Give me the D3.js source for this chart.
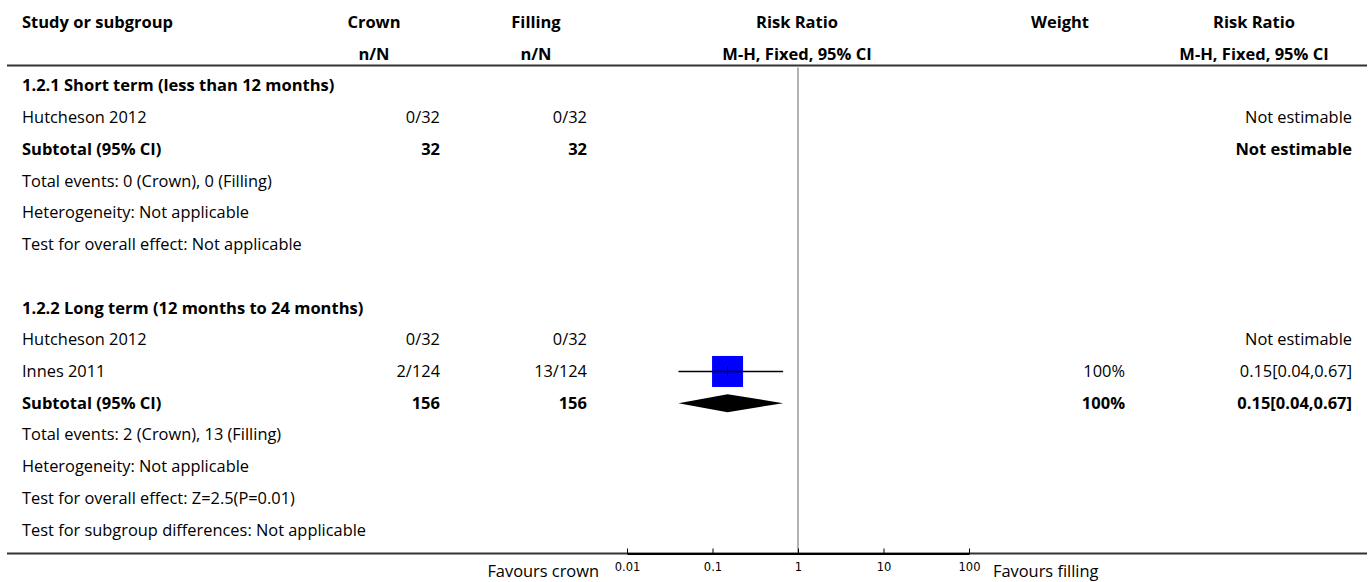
<!DOCTYPE html>
<html>
<head>
<meta charset="utf-8">
<script src="https://cdn.jsdelivr.net/npm/d3@7"></script>
<style>
  html, body { margin: 0; padding: 0; background: #fff; }
  svg { display: block; font-family: "Open Sans", "Noto Sans", sans-serif; }
</style>
</head>
<body>
<svg id="forest" width="1370" height="582"></svg>
<script>
// Column headings
const headLine1 = ["Study or subgroup", "Crown", "Filling", "Risk Ratio", "Weight", "Risk Ratio"];
const headLine2 = ["", "n/N", "n/N", "M-H, Fixed, 95% CI", "", "M-H, Fixed, 95% CI"];

// Table rows, top to bottom
const rowLabels = [
  "1.2.1 Short term (less than 12 months)",
  "Hutcheson 2012",
  "Subtotal (95% CI)",
  "Total events: 0 (Crown), 0 (Filling)",
  "Heterogeneity: Not applicable",
  "Test for overall effect: Not applicable",
  "",
  "1.2.2 Long term (12 months to 24 months)",
  "Hutcheson 2012",
  "Innes 2011",
  "Subtotal (95% CI)",
  "Total events: 2 (Crown), 13 (Filling)",
  "Heterogeneity: Not applicable",
  "Test for overall effect: Z=2.5(P=0.01)",
  "Test for subgroup differences: Not applicable"
];
// "group" = subgroup heading, "study", "total" = subtotal row, "note" = plain text
const rowKinds = ["group", "study", "total", "note", "note", "note", "note",
                  "group", "study", "study", "total", "note", "note", "note", "note"];
const crownNN   = ["", "0/32", "32", "", "", "", "", "", "0/32", "2/124", "156", "", "", "", ""];
const fillingNN = ["", "0/32", "32", "", "", "", "", "", "0/32", "13/124", "156", "", "", "", ""];
const weights   = ["", "", "", "", "", "", "", "", "", "100%", "100%", "", "", "", ""];
const ciText    = ["", "Not estimable", "Not estimable", "", "", "", "", "",
                   "Not estimable", "0.15[0.04,0.67]", "0.15[0.04,0.67]", "", "", "", ""];

// Effect estimates (risk ratio, lower, upper) for rows that have one
const estRow   = [9, 10];
const estRR    = [0.15, 0.15];
const estLower = [0.04, 0.04];
const estUpper = [0.67, 0.67];
const estKind  = ["study", "total"];
const estWeight = [100, 100];

// Axis
const axisTicks = [0.01, 0.1, 1, 10, 100];
const favoursLeft = "Favours crown";
const favoursRight = "Favours filling";

const svg = d3.select("#forest");

const x = d3.scaleLog().domain([0.01, 100]).range([627, 969]);
const y = d3.scaleBand().domain(d3.range(rowLabels.length)).range([70, 546]);
const yc = i => y(i) + y.bandwidth() / 2;

const ruleLeft = 7, ruleRight = 1367, headRuleY = 65.5, footRuleY = 553.5;

// Column anchors
const colStudyX = 22;
const colCrownHeadX = 374, colCrownValX = 440;
const colFillHeadX = 536, colFillValX = 587;
const colPlotHeadX = 797;
const colWeightHeadX = 1060, colWeightValX = 1125;
const colCIHeadX = 1254, colCIValX = 1352;

const fs = 16.4;      // body text
const fsBold = 16.5;  // headings, subgroup and subtotal rows

// Header
const headX = [colStudyX, colCrownHeadX, colFillHeadX, colPlotHeadX, colWeightHeadX, colCIHeadX];
const headAnchor = ["start", "middle", "middle", "middle", "middle", "middle"];
const head = svg.append("g").attr("class", "header")
  .attr("font-weight", "bold").attr("font-size", fsBold).attr("fill", "#000");
head.selectAll("text.h1").data(headLine1).join("text")
  .attr("class", "h1")
  .attr("x", (d, i) => headX[i]).attr("y", 27.5)
  .attr("text-anchor", (d, i) => headAnchor[i]).text(d => d);
head.selectAll("text.h2").data(headLine2).join("text")
  .attr("class", "h2")
  .attr("x", (d, i) => headX[i]).attr("y", 59.5)
  .attr("text-anchor", (d, i) => headAnchor[i]).text(d => d);

// Rules
svg.append("line").attr("x1", ruleLeft).attr("x2", ruleRight)
  .attr("y1", headRuleY).attr("y2", headRuleY)
  .attr("stroke", "#333").attr("stroke-width", 2);

// Null line at RR = 1
svg.append("line").attr("x1", x(1)).attr("x2", x(1))
  .attr("y1", headRuleY + 2).attr("y2", footRuleY)
  .attr("stroke", "#999").attr("stroke-width", 1.5);

// Row text
const body = svg.append("g").attr("class", "rows").attr("fill", "#000");
const idx = d3.range(rowLabels.length);
const isBold = i => rowKinds[i] === "group" || rowKinds[i] === "total";

body.selectAll("text.label").data(idx).join("text")
  .attr("class", "label")
  .attr("x", colStudyX).attr("y", i => yc(i) + 5.5)
  .attr("font-weight", i => isBold(i) ? "bold" : "normal")
  .attr("font-size", i => isBold(i) ? fsBold : fs)
  .text(i => rowLabels[i]);

[[crownNN, colCrownValX], [fillingNN, colFillValX], [weights, colWeightValX], [ciText, colCIValX]]
  .forEach(([vals, cx]) => {
    body.append("g").selectAll("text").data(idx.filter(i => vals[i] !== "")).join("text")
      .attr("x", cx).attr("y", i => yc(i) + 5.5)
      .attr("text-anchor", "end")
      .attr("font-weight", i => isBold(i) ? "bold" : "normal")
      .attr("font-size", i => isBold(i) ? fsBold : fs)
      .text(i => vals[i]);
  });

// Plot marks
const marks = svg.append("g").attr("class", "marks");
const est = d3.range(estRow.length);
const maxSide = 31;
const sideScale = d3.scaleSqrt().domain([0, 100]).range([0, maxSide]);

est.filter(k => estKind[k] === "study").forEach(k => {
  const cy = yc(estRow[k]);
  const s = sideScale(estWeight[k]);
  marks.append("rect")
    .attr("x", x(estRR[k]) - s / 2).attr("y", cy - s / 2)
    .attr("width", s).attr("height", s).attr("fill", "#0000ff");
  marks.append("line")
    .attr("x1", x(estLower[k])).attr("x2", x(estUpper[k]))
    .attr("y1", cy).attr("y2", cy)
    .attr("stroke", "#000").attr("stroke-width", 1.5);
  marks.append("line")
    .attr("x1", x(estRR[k])).attr("x2", x(estRR[k]))
    .attr("y1", cy - 5).attr("y2", cy + 5)
    .attr("stroke", "#000").attr("stroke-width", 1);
});

est.filter(k => estKind[k] === "total").forEach(k => {
  const cy = yc(estRow[k]);
  const h = 9;
  const pts = [[x(estLower[k]), cy], [x(estRR[k]), cy - h], [x(estUpper[k]), cy], [x(estRR[k]), cy + h]];
  marks.append("path").attr("d", d3.line()(pts) + "Z").attr("fill", "#000");
});

// Bottom rule and axis
svg.append("line").attr("x1", ruleLeft).attr("x2", ruleRight)
  .attr("y1", footRuleY).attr("y2", footRuleY)
  .attr("stroke", "#333").attr("stroke-width", 2);

const axis = d3.axisBottom(x)
  .tickValues(axisTicks)
  .tickFormat(d => String(d))
  .tickSize(-5)
  .tickSizeOuter(0)
  .tickPadding(9);

const ax = svg.append("g").attr("transform", `translate(0,${footRuleY})`).call(axis);
ax.select(".domain").attr("stroke", "#000").attr("stroke-width", 2);
ax.selectAll(".tick line").attr("stroke", "#000");
ax.selectAll(".tick text").attr("font-size", 11.5)
  .attr("font-family", "'DejaVu Sans', sans-serif").attr("fill", "#000");

svg.append("text").attr("x", 599).attr("y", 577).attr("text-anchor", "end")
  .attr("font-size", fs).attr("fill", "#000").text(favoursLeft);
svg.append("text").attr("x", 993).attr("y", 577).attr("text-anchor", "start")
  .attr("font-size", fs).attr("fill", "#000").text(favoursRight);
</script>
</body>
</html>
